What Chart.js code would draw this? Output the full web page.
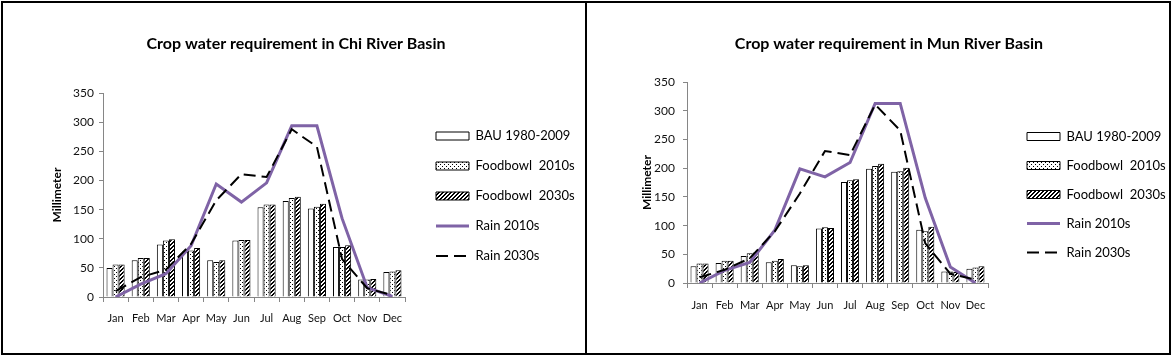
<!DOCTYPE html>
<html><head><meta charset="utf-8">
<script src="https://cdn.jsdelivr.net/npm/chart.js@4.4.0/dist/chart.umd.min.js"></script>
<style>
html,body{margin:0;padding:0;background:#fff;}
#wrap{position:relative;width:1172px;height:357px;overflow:hidden;background:#fff;}
canvas{position:absolute;top:0;}
#c1{left:0}
#c2{left:587px}
.frame{position:absolute;left:1px;top:1px;width:1170px;height:354px;border:2px solid #000;box-sizing:border-box;pointer-events:none}
.divider{position:absolute;left:585px;top:1px;width:2px;height:354px;background:#000}
</style></head>
<body>
<div id="wrap">
<canvas id="c1" width="585" height="357"></canvas>
<canvas id="c2" width="585" height="357"></canvas>
<div class="frame"></div><div class="divider"></div>
</div>
<script>
// ---- data ----
const months = ['Jan','Feb','Mar','Apr','May','Jun','Jul','Aug','Sep','Oct','Nov','Dec'];
const seriesNames = ['BAU 1980-2009','Foodbowl  2010s','Foodbowl  2030s','Rain 2010s','Rain 2030s'];
const yTitle = 'Millimeter';
const chiTitle = 'Crop water requirement in Chi River Basin';
const munTitle = 'Crop water requirement in Mun River Basin';

const chiBAU    = [50, 63, 90, 78, 63, 97, 154, 165, 152, 86, 30, 43];
const chiFB2010 = [56, 67, 97, 80, 60, 98, 159, 170, 155, 86, 30, 44];
const chiFB2030 = [56, 67, 99, 84, 63, 98, 159, 172, 160, 89, 31, 46];
const chiRain2010 = [0, 22, 40, 88, 194, 163, 196, 294, 294, 135, 16, 1];
const chiRain2030 = [10, 34, 47, 91, 166, 211, 206, 288, 258, 65, 15, 3];

const munBAU    = [29, 35, 47, 36, 31, 95, 176, 199, 194, 93, 20, 25];
const munFB2010 = [34, 39, 52, 39, 29, 97, 179, 204, 195, 90, 20, 27];
const munFB2030 = [34, 39, 53, 42, 31, 96, 181, 208, 201, 98, 19, 29];
const munRain2010 = [0, 22, 36, 92, 199, 185, 210, 313, 313, 148, 28, 0];
const munRain2030 = [10, 23, 43, 90, 156, 230, 223, 311, 266, 69, 16, 6];

// ---- patterns ----
function makePattern(fn){
  const c = document.createElement('canvas'); c.width = 4; c.height = 4;
  const x = c.getContext('2d');
  x.fillStyle = '#fff'; x.fillRect(0,0,4,4);
  x.fillStyle = '#000';
  for (let i=0;i<4;i++) for (let j=0;j<4;j++) if (fn(i,j)) x.fillRect(i,j,1,1);
  return x.createPattern(c,'repeat');
}
const dotPattern = makePattern((i,j)=> (i===0&&j===0)||(i===2&&j===2));
const hatchPattern = makePattern((i,j)=> ((i+j)%4===2)||((i+j)%4===3));

Chart.defaults.font.family = 'Lato, "Open Sans", sans-serif';

const placeLegend = {
  id: 'placeLegend',
  afterLayout(chart, args, opts){
    const L = chart.legend;
    if (L) {
      const w = L.width, h = L.height;
      L.left = opts.legX; L.top = opts.legY; L.right = opts.legX + w; L.bottom = opts.legY + h;
    }
    const T = chart.titleBlock;
    if (T) {
      const W = chart.width;
      T.left = opts.titleCx - W/2; T.right = opts.titleCx + W/2;
    }
  }
};

function legendLabels(chart){
  const items = Chart.defaults.plugins.legend.labels.generateLabels(chart);
  items.forEach(it => {
    const ds = chart.data.datasets[it.datasetIndex];
    it.lineDash = ds.borderDash || [];
    if (ds.type === 'line') { it.lineWidth = ds.borderWidth; it.strokeStyle = ds.borderColor; }
  });
  return items;
}

function build(id, titleText, bau, fb10, fb30, r10, r30, g){
  return new Chart(document.getElementById(id), {
    type: 'bar',
    data: {
      labels: months,
      datasets: [
        {label: seriesNames[0], data: bau, backgroundColor: '#ffffff', borderColor: '#000', borderWidth: 1, pointStyle: 'rect', order: 2},
        {label: seriesNames[1], data: fb10, backgroundColor: dotPattern, borderColor: '#000', borderWidth: 1, pointStyle: 'rect', order: 2},
        {label: seriesNames[2], data: fb30, backgroundColor: hatchPattern, borderColor: '#000', borderWidth: 1, pointStyle: 'rect', order: 2},
        {type: 'line', label: seriesNames[3], data: r10, borderColor: '#7F63A6', backgroundColor: '#7F63A6', borderWidth: 3, pointRadius: 0, pointHoverRadius: 0, pointStyle: 'line', tension: 0, fill: false, order: 1},
        {type: 'line', label: seriesNames[4], data: r30, borderColor: '#000', backgroundColor: '#000', borderWidth: 2, borderDash: [12,6], pointRadius: 0, pointHoverRadius: 0, pointStyle: 'line', tension: 0, fill: false, order: 0}
      ]
    },
    options: {
      responsive: false, animation: false, devicePixelRatio: 1,
      events: [],
      layout: {padding: {left: g.padL, right: g.padR, top: 0, bottom: 0}},
      datasets: {bar: {categoryPercentage: 0.72, barPercentage: 1}},
      plugins: {
        title: {display: true, text: titleText, color: '#000', font: {size: 16, weight: 'bold'}, padding: {top: g.titleTop, bottom: g.titleBottom}},
        legend: {position: 'chartArea', align: 'start',
          labels: {usePointStyle: true, pointStyleWidth: 33, boxHeight: 8, padding: g.legPad, color: '#000', font: {size: 13},
            generateLabels: legendLabels,
            sort: (a,b)=>a.datasetIndex-b.datasetIndex}},
        tooltip: {enabled: false},
        placeLegend: {legX: g.legX, legY: g.legY, titleCx: g.titleCx}
      },
      scales: {
        x: {
          grid: {display: true, drawOnChartArea: false, drawTicks: true, tickLength: 5, color: '#868686', offset: true},
          border: {display: true, color: '#868686', width: 1},
          ticks: {font: {size: 11}, color: '#111', padding: g.xPad, maxRotation: 0, autoSkip: false},
          afterFit: s => { s.height = g.xH; }
        },
        y: {
          min: 0, max: 350,
          ticks: {stepSize: 50, font: {size: 12}, color: '#111', padding: g.yPad},
          grid: {drawOnChartArea: false, drawTicks: true, tickLength: 4, color: '#868686'},
          border: {display: true, color: '#868686', width: 1},
          title: {display: true, text: yTitle, color: '#000', font: {size: 12, weight: 'bold'}, padding: {top: 4, bottom: 0}},
          afterFit: s => { s.width = g.yW; }
        }
      }
    },
    plugins: [placeLegend]
  });
}

build('c1', chiTitle, chiBAU, chiFB2010, chiFB2030, chiRain2010, chiRain2030,
  {padL: 46, yW: 57, padR: 180, titleTop: 34, titleBottom: 40, xH: 60, xPad: 10, yPad: 5,
   legPad: 17, legX: 419, legY: 112.5, titleCx: 296});
build('c2', munTitle, munBAU, munFB2010, munFB2030, munRain2010, munRain2030,
  {padL: 49, yW: 51, padR: 184, titleTop: 34, titleBottom: 29, xH: 74, xPad: 11, yPad: 8,
   legPad: 16, legX: 424, legY: 114, titleCx: 302});
</script>
</body></html>
